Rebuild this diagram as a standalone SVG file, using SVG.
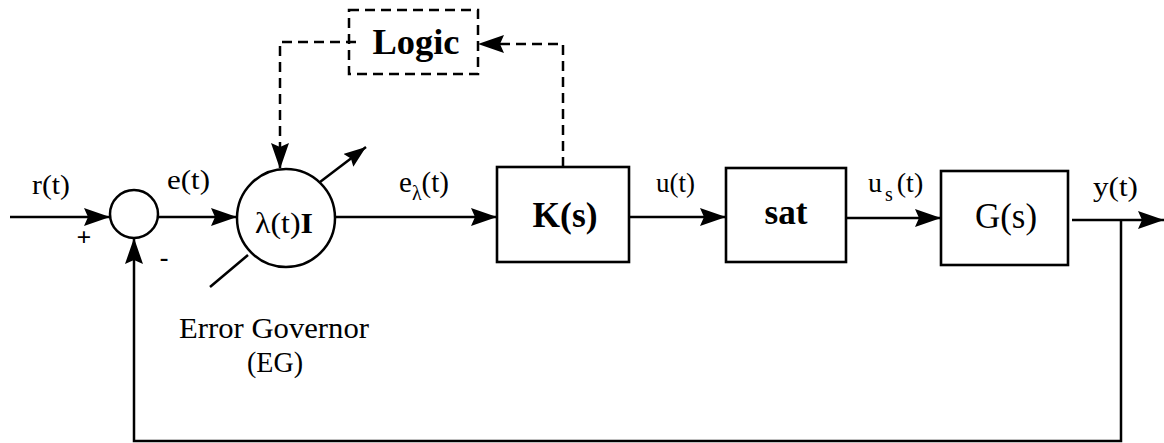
<svg xmlns="http://www.w3.org/2000/svg" width="1164" height="443" viewBox="0 0 1164 443">
<style>
.ln{fill:none;stroke:#000;stroke-width:2.5}
.dash{fill:none;stroke:#000;stroke-width:2.5;stroke-dasharray:10 6}
.box{fill:#fff;stroke:#000;stroke-width:2.6}
.t{font-family:"Liberation Serif","Times New Roman",serif;fill:#000}
.b{font-weight:bold}
</style>
<defs>
<marker id="ar" markerUnits="userSpaceOnUse" markerWidth="26" markerHeight="18" refX="26" refY="9" orient="auto">
<path d="M0,0 L26,9 L0,18 L4,9 z" fill="#000"/>
</marker>
<marker id="ars" markerUnits="userSpaceOnUse" markerWidth="22" markerHeight="16" refX="22" refY="8" orient="auto">
<path d="M0,0 L22,8 L0,16 L3,8 z" fill="#000"/>
</marker>
</defs>
<rect width="1164" height="443" fill="#fff"/>
<g id="connectors">
<path class="ln" d="M10,217 H110" marker-end="url(#ar)"/>
<path class="ln" d="M158,217 H237" marker-end="url(#ar)"/>
<path class="ln" d="M335,217 H497" marker-end="url(#ar)"/>
<path class="ln" d="M629,217 H726" marker-end="url(#ar)"/>
<path class="ln" d="M846,218 H941" marker-end="url(#ar)"/>
<path class="ln" d="M1072,220 H1164" marker-end="url(#ar)"/>
<path class="ln" d="M1121,220 V441 H134 V238" marker-end="url(#ar)"/>
<path class="dash" d="M356,42 H280 V169" marker-end="url(#ar)"/>
<path class="dash" d="M563,167 V44 H478" marker-end="url(#ar)"/>
<path class="ln" d="M320,182 L366,147" marker-end="url(#ars)"/>
<path class="ln" d="M248,255 L210,287"/>
</g>
<g id="sum">
<circle cx="134" cy="214" r="24" class="ln"/>
<text x="84" y="246" class="t b" font-size="26" text-anchor="middle">+</text>
<text x="164" y="266" class="t b" font-size="26" text-anchor="middle">-</text>
</g>
<g id="eg">
<circle cx="286" cy="218" r="49" class="ln"/>
<text x="284" y="233" class="t" font-size="29" text-anchor="middle" textLength="58" lengthAdjust="spacingAndGlyphs">λ(t)<tspan class="b">I</tspan></text>
<text x="274" y="338" class="t" font-size="29" text-anchor="middle" textLength="190" lengthAdjust="spacingAndGlyphs">Error Governor</text>
<text x="275" y="372" class="t" font-size="29" text-anchor="middle" textLength="56" lengthAdjust="spacingAndGlyphs">(EG)</text>
</g>
<g id="logic">
<rect x="349" y="10" width="129" height="64" class="dash"/>
<text x="416" y="54" class="t b" font-size="35" text-anchor="middle" textLength="87" lengthAdjust="spacingAndGlyphs">Logic</text>
</g>
<g id="K">
<rect x="497" y="167" width="132" height="95" class="box"/>
<text x="565" y="227" class="t b" font-size="36" text-anchor="middle" textLength="65" lengthAdjust="spacingAndGlyphs">K(s)</text>
</g>
<g id="sat">
<rect x="726" y="168" width="120" height="94" class="box"/>
<text x="786" y="224" class="t b" font-size="35" text-anchor="middle" textLength="43" lengthAdjust="spacingAndGlyphs">sat</text>
</g>
<g id="G">
<rect x="941" y="171" width="127" height="94" class="box"/>
<text x="1006" y="228" class="t" font-size="36" text-anchor="middle" textLength="62" lengthAdjust="spacingAndGlyphs">G(s)</text>
</g>
<g id="labels">
<text x="32" y="194" class="t" font-size="27" textLength="38" lengthAdjust="spacingAndGlyphs">r(t)</text>
<text x="167" y="189" class="t" font-size="27" textLength="43" lengthAdjust="spacingAndGlyphs">e(t)</text>
<text x="399" y="192" class="t" font-size="29">e<tspan font-size="20" dy="8">λ</tspan><tspan dy="-8">(t)</tspan></text>
<text x="656" y="192" class="t" font-size="27" textLength="39" lengthAdjust="spacingAndGlyphs">u(t)</text>
<text x="868" y="192" class="t" font-size="28">u<tspan font-size="20" dx="3" dy="9">s</tspan><tspan dx="4" dy="-9">(t)</tspan></text>
<text x="1093" y="196" class="t" font-size="27" textLength="45" lengthAdjust="spacingAndGlyphs">y(t)</text>
</g>
</svg>
